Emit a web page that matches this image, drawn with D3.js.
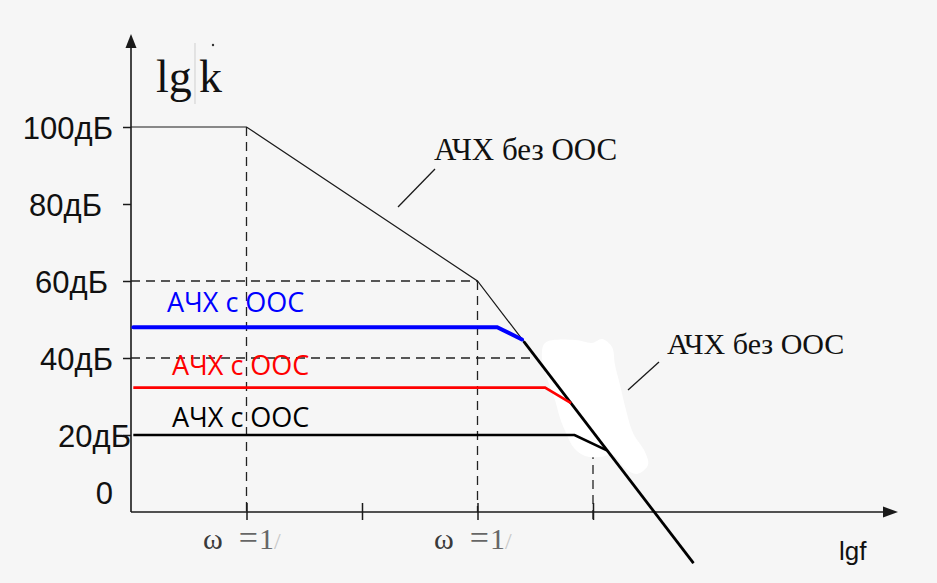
<!DOCTYPE html>
<html><head><meta charset="utf-8">
<script src="https://cdn.jsdelivr.net/npm/d3@7"></script>
<style>
html,body{margin:0;padding:0;background:#f6f6f6;}
svg{display:block;}
</style></head>
<body>
<svg id="chart" width="937" height="583"></svg>
<script>
// ---- data ----
const yTicks = [0, 20, 40, 60, 80, 100];
const yTickLabels = ["0", "20дБ", "40дБ", "60дБ", "80дБ", "100дБ"];
const xTicks = [1, 2, 3, 4];
const xTickLabels = ["ω =1/", "", "ω =1/", ""];
const openLoopLgf = [0, 1, 3, 4.87];
const openLoopDb  = [100, 100, 60, -13.3];
const openLoopBoldLgf = [3.4, 4.87];
const openLoopBoldDb  = [44.3, -13.3];
const fbBlueLgf = [0.02, 3.17, 3.385];
const fbBlueDb  = [48, 48, 44.8];
const fbRedLgf  = [0.02, 3.585, 3.81];
const fbRedDb   = [32.3, 32.3, 28.3];
const fbBlackLgf = [0.02, 3.84, 4.12];
const fbBlackDb  = [20, 20, 16];
const openLabel = "АЧХ без ООС";
const fbLabel = "АЧХ с ООС";

// ---- scales ----
const svg = d3.select("#chart");
const x = d3.scaleLinear().domain([0, 4]).range([131, 593]);
const y = d3.scaleLinear().domain([0, 100]).range([512, 127]);
const pts = (xs, ys) => xs.map((v, i) => [x(v), y(ys[i])]);
const line = d3.line();
const ink = "#1a1a1a";
const serif = "'Liberation Serif', 'Times New Roman', serif";
const sans = "'Open Sans', 'Noto Sans', sans-serif";

// ---- dashed guides ----
const dash = "9,6";
const guides = svg.append("g").attr("stroke", "#222").attr("stroke-width", 1.3).attr("stroke-dasharray", dash).attr("fill", "none");
guides.append("line").attr("x1", x(1)).attr("x2", x(1)).attr("y1", y(100)).attr("y2", y(0));
guides.append("line").attr("x1", x(3)).attr("x2", x(3)).attr("y1", y(60)).attr("y2", y(0));
guides.append("line").attr("x1", x(4)).attr("x2", x(4)).attr("y1", y(20)).attr("y2", y(0) + 8);
guides.append("line").attr("x1", x(0)).attr("x2", x(3)).attr("y1", y(60)).attr("y2", y(60));
guides.append("line").attr("x1", x(0)).attr("x2", x(3.5)).attr("y1", y(40)).attr("y2", y(40));

// ---- white eraser smudge ----
const blob = [[545,343],[575,340],[592,343],[602,339],[612,347],[615,365],[620,385],[626,410],[633,433],[645,452],[648,465],[637,474],[626,469],[613,455],[600,457],[585,456],[574,448],[566,433],[560,418],[555,400],[547,378],[542,358]];
svg.append("path").attr("d", d3.line().curve(d3.curveCatmullRomClosed)(blob)).attr("fill", "#ffffff");

// ---- axes ----
const axes = svg.append("g").attr("stroke", ink).attr("stroke-width", 1.6);
axes.append("line").attr("x1", 131).attr("x2", 131).attr("y1", 44).attr("y2", y(0));
axes.append("line").attr("x1", 131).attr("x2", 886).attr("y1", y(0)).attr("y2", y(0));
svg.append("path").attr("fill", ink).attr("d", "M131,34 L125.5,48 L136.5,48 Z");
svg.append("path").attr("fill", ink).attr("d", "M898,512 L883,506.5 L883,517.5 Z");

const yAxis = svg.append("g").attr("transform", "translate(131,0)")
  .call(d3.axisLeft(y).tickValues(yTicks).tickSize(8).tickPadding(12)
    .tickFormat((d, i) => yTickLabels[i]));
yAxis.select(".domain").remove();
yAxis.selectAll(".tick line").attr("stroke", ink).attr("stroke-width", 1.5)
  .attr("display", d => d === 0 ? "none" : null);
yAxis.selectAll(".tick text")
  .attr("font-family", "'Liberation Sans', Arial, sans-serif").attr("font-size", 31)
  .attr("fill", "#111").attr("dy", 0)
  .attr("y", d => d === 0 ? -9 : 11)
  .attr("x", d => d === 20 ? 0 : (d === 80 ? -29 : (d === 60 ? -23 : -18)));

const xAxis = svg.append("g").attr("transform", `translate(0,${y(0)})`)
  .call(d3.axisBottom(x).tickValues(xTicks).tickSize(8).tickFormat(() => ""));
xAxis.select(".domain").remove();
xAxis.selectAll(".tick line").attr("stroke", ink).attr("stroke-width", 1.5).attr("y1", -9).attr("y2", 8);
xAxis.selectAll(".tick").each(function(d, i) {
  if (!xTickLabels[i]) return;
  const s = xTickLabels[i];
  const t = d3.select(this).append("text")
    .attr("y", 37).attr("x", -44).attr("text-anchor", "start")
    .attr("font-family", serif).attr("font-size", 30)
    .attr("fill", "#666");
  t.append("tspan").attr("fill", "#3a3a3a").text(s.slice(0, 1));
  t.append("tspan").attr("dx", 16).attr("font-size", 34).text(s.slice(2, 3));
  t.append("tspan").attr("dx", 1).text(s.slice(3, 4));
  t.append("tspan").attr("fill", "#c8c8c8").attr("font-size", 24).text(s.slice(4));
});

// ---- curves ----
svg.append("path").attr("d", line(pts(openLoopLgf, openLoopDb))).attr("fill", "none").attr("stroke", ink).attr("stroke-width", 1.2);
svg.append("path").attr("d", line(pts(openLoopBoldLgf, openLoopBoldDb))).attr("fill", "none").attr("stroke", "#000").attr("stroke-width", 2.8);
svg.append("path").attr("d", line(pts(fbBlueLgf, fbBlueDb))).attr("fill", "none").attr("stroke", "#0000ff").attr("stroke-width", 4).attr("stroke-linecap", "round");
svg.append("path").attr("d", line(pts(fbRedLgf, fbRedDb))).attr("fill", "none").attr("stroke", "#ff0000").attr("stroke-width", 2.6);
svg.append("path").attr("d", line(pts(fbBlackLgf, fbBlackDb))).attr("fill", "none").attr("stroke", "#000").attr("stroke-width", 2.6);

// ---- labels ----
svg.append("text").attr("x", 156).attr("y", 92).attr("font-family", serif).attr("font-size", 46).attr("fill", "#111").text("lg");
svg.append("text").attr("x", 199).attr("y", 92).attr("font-family", serif).attr("font-size", 46).attr("fill", "#111").text("k");
svg.append("line").attr("x1", 195).attr("x2", 195).attr("y1", 43).attr("y2", 104).attr("stroke", "#cfcfcf").attr("stroke-width", 1);
svg.append("circle").attr("cx", 213).attr("cy", 45).attr("r", 1.2).attr("fill", "#333");

svg.append("text").attr("x", 434).attr("y", 160).attr("font-family", serif).attr("font-size", 31).attr("fill", "#111").text(openLabel);
svg.append("line").attr("x1", 435).attr("y1", 169).attr("x2", 398).attr("y2", 207).attr("stroke", ink).attr("stroke-width", 1.3);
svg.append("text").attr("x", 667).attr("y", 354).attr("font-family", serif).attr("font-size", 30).attr("fill", "#111").text(openLabel);
svg.append("line").attr("x1", 659).attr("y1", 362).attr("x2", 628).attr("y2", 390).attr("stroke", ink).attr("stroke-width", 1.3);

svg.append("text").attr("x", 167).attr("y", 312).attr("font-family", sans).attr("font-size", 27).attr("fill", "#0000ff").text(fbLabel);
svg.append("text").attr("x", 172).attr("y", 375).attr("font-family", sans).attr("font-size", 27).attr("fill", "#ff0000").text(fbLabel);
svg.append("text").attr("x", 172).attr("y", 427).attr("font-family", sans).attr("font-size", 27).attr("fill", "#000").text(fbLabel);

svg.append("text").attr("x", 839).attr("y", 560).attr("font-family", "'Liberation Sans', Arial, sans-serif").attr("font-size", 26).attr("fill", "#111").text("lgf");
</script>
</body></html>
